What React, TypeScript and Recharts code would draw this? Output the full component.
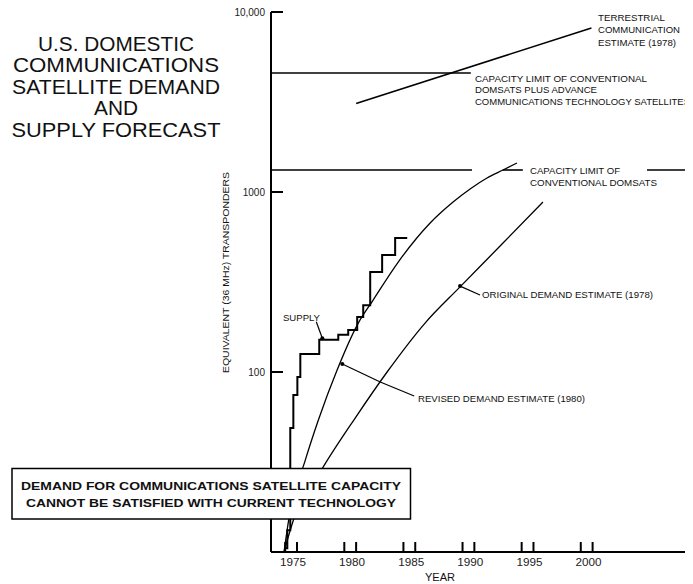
import React from 'react';
import { LineChart, Line, XAxis, YAxis, ReferenceLine, ReferenceDot } from 'recharts';

const FONT = '"Liberation Sans", Arial, Helvetica, sans-serif';

// title
const titleLines = ['U.S. DOMESTIC', 'COMMUNICATIONS', 'SATELLITE DEMAND', 'AND', 'SUPPLY FORECAST'];
const titleWidths = [156, 206, 208, 44, 209];

// axes
const xDomain = [1972.8, 2007.9];
const yDomain = [10, 10000];
const xTicks = [1974, 1975, 1979, 1980, 1984, 1985, 1989, 1990, 1994, 1995, 1999, 2000];
const yTicks = [100, 1000, 10000];

// supply (step)
const supplyYears = [1973.93, 1974.18, 1974.43, 1974.69, 1975.03, 1975.28, 1976.88, 1978.49, 1979.33, 1980.09, 1980.6, 1981.19, 1982.2, 1983.3, 1984.32];
const supplyValues = [10.5, 13.2, 48.8, 74.5, 93.8, 126, 151, 161, 171, 202, 235, 359, 447, 555, 555];

// revised demand estimate (1980)
const revisedYears = [1973.9, 1974.29, 1975.7, 1976.8, 1978.4, 1980.18, 1981.44, 1983.5, 1986.26, 1988.2, 1989.64, 1991.07, 1992.42, 1993.6];
const revisedValues = [10, 15, 32.4, 54, 103, 187, 251, 403, 673, 880, 1040, 1196, 1325, 1449];

// original demand estimate (1978)
const originalYears = [1973.9, 1974.69, 1977.22, 1979.92, 1982.62, 1985.83, 1988.79, 1992.34, 1995.8];
const originalValues = [10, 15, 29.7, 55.5, 100, 187, 297, 514, 880];

// terrestrial communication estimate (1978)
const terrestrialYears = [1980, 1999.9];
const terrestrialValues = [3100, 8150];

// capacity limits
const capAdvancedYears = [1972.8, 1989.7];
const capAdvancedValues = [4580, 4580];
const capConventionalValue = 1325;
const capConventionalSegments = [
  [1972.8, 1989.8],
  [1992.4, 1994.1],
  [2004.6, 2007.9],
];

// leader lines for annotations [year, value], last point is the arrow tip
const supplyLeader = [[1976.63, 190], [1977.14, 154]];
const originalLeader = [[1990.48, 268], [1988.79, 300]];
const revisedLeader = [[1984.91, 73.6], [1982.04, 88], [1978.83, 110.7]];

const zip = (xs: number[], vs: number[]) => xs.map((year, i) => ({ year, v: vs[i] }));
const seg = (pts: number[][]) => pts.map(([x, y]) => ({ x, y }));

const XTick = (props: any) => {
  const { x, y, payload } = props;
  const axisY = y - 8;
  const labelled = payload.value % 5 === 0;
  return (
    <g>
      <line x1={x} x2={x} y1={axisY} y2={axisY - 10} stroke="#000" strokeWidth={2} />
      {labelled && (
        <text x={x - 4} y={axisY + 14} textAnchor="middle" fontSize={10} fontFamily={FONT} fill="#222" textLength={26} lengthAdjust="spacingAndGlyphs">
          {payload.value}
        </text>
      )}
    </g>
  );
};

const YTick = (props: any) => {
  const { x, y, payload } = props;
  const axisX = x + 6;
  const label = payload.value >= 10000 ? '10,000' : String(payload.value);
  return (
    <g>
      <line x1={axisX} x2={axisX + 12} y1={y} y2={y} stroke="#000" strokeWidth={2} />
      <text x={x} y={y + 3.5} textAnchor="end" fontSize={10} fontFamily={FONT} fill="#222">
        {label}
      </text>
    </g>
  );
};

const T = ({ x, y, w, children, size = 9.5, anchor = 'start', weight = 'normal' }: any) => (
  <text x={x} y={y} fontSize={size} fontFamily={FONT} fill="#111" textAnchor={anchor} fontWeight={weight} textLength={w} lengthAdjust="spacingAndGlyphs">
    {children}
  </text>
);

export default function App() {
  const lineProps = { dataKey: 'v', stroke: '#000', dot: false, isAnimationActive: false, activeDot: false } as const;
  const leaders = [supplyLeader, originalLeader, revisedLeader.slice(0, 2), revisedLeader.slice(1)];
  const tips = [supplyLeader[1], originalLeader[1], revisedLeader[2]];
  return (
    <div style={{ position: 'relative', width: 685, height: 576, fontFamily: FONT }}>
      <LineChart width={685} height={576} margin={{ top: 4, right: 7, bottom: 2, left: 203 }}>
        <XAxis
          type="number"
          dataKey="year"
          domain={xDomain}
          ticks={xTicks}
          interval={0}
          allowDataOverflow
          tickSize={0}
          tickMargin={8}
          height={30}
          tick={<XTick />}
          tickFormatter={() => ''}
          axisLine={{ stroke: '#000', strokeWidth: 2 }}
          tickLine={false}
        />
        <YAxis
          scale="log"
          domain={yDomain}
          ticks={yTicks}
          interval={0}
          allowDataOverflow
          width={60}
          tickSize={0}
          tickMargin={6}
          tick={<YTick />}
          axisLine={{ stroke: '#000', strokeWidth: 2 }}
          tickLine={false}
        />
        <Line {...lineProps} data={zip(capAdvancedYears, capAdvancedValues)} strokeWidth={1.6} />
        {capConventionalSegments.map((s, i) => (
          <Line key={i} {...lineProps} data={zip(s, [capConventionalValue, capConventionalValue])} strokeWidth={1.6} />
        ))}
        <Line {...lineProps} data={zip(terrestrialYears, terrestrialValues)} strokeWidth={1.6} />
        <Line {...lineProps} type="monotone" data={zip(revisedYears, revisedValues)} strokeWidth={1.3} />
        <Line {...lineProps} type="monotone" data={zip(originalYears, originalValues)} strokeWidth={1.3} />
        <Line {...lineProps} type="stepAfter" data={zip(supplyYears, supplyValues)} strokeWidth={2} />
        {leaders.map((l, i) => (
          <ReferenceLine key={i} segment={seg(l)} stroke="#000" strokeWidth={1.2} ifOverflow="visible" />
        ))}
        {tips.map(([x, y], i) => (
          <ReferenceDot key={i} x={x} y={y} r={2} fill="#000" stroke="none" ifOverflow="visible" />
        ))}
      </LineChart>
      <svg width={693} height={584} style={{ position: 'absolute', left: -8, top: -8, pointerEvents: 'none' }}>
        <text x={116} y={50.5} fontFamily={FONT} fill="#111" fontSize={20} textAnchor="middle">
          {titleLines.map((l, i) => (
            <tspan key={i} x={116} dy={i === 0 ? 0 : 21.6} textLength={titleWidths[i]} lengthAdjust="spacingAndGlyphs">
              {l}
            </tspan>
          ))}
        </text>
        <T x={598} y={20.5} w={67}>TERRESTRIAL</T>
        <T x={598} y={33} w={82}>COMMUNICATION</T>
        <T x={598} y={45.5} w={78}>ESTIMATE (1978)</T>
        <T x={475} y={81.5} w={172}>CAPACITY LIMIT OF CONVENTIONAL</T>
        <T x={475} y={93} w={122}>DOMSATS PLUS ADVANCE</T>
        <T x={475} y={104.5} w={215}>COMMUNICATIONS TECHNOLOGY SATELLITES</T>
        <T x={530} y={173.5} w={90}>CAPACITY LIMIT OF</T>
        <T x={530} y={186} w={127}>CONVENTIONAL DOMSATS</T>
        <T x={283} y={321} w={37}>SUPPLY</T>
        <T x={482} y={297.5} w={171}>ORIGINAL DEMAND ESTIMATE (1978)</T>
        <T x={418} y={401.5} w={167}>REVISED DEMAND ESTIMATE (1980)</T>
        <text
          x={0}
          y={0}
          transform="translate(228.5,272.5) rotate(-90)"
          fontSize={9.5}
          fontFamily={FONT}
          fill="#111"
          textAnchor="middle"
          textLength={201}
          lengthAdjust="spacingAndGlyphs"
        >
          EQUIVALENT (36 MHz) TRANSPONDERS
        </text>
        <T x={425} y={581} w={30} size={10}>YEAR</T>
        <rect x={12} y={468.5} width={398.5} height={50.5} fill="#fff" stroke="#000" strokeWidth={1.5} />
        <T x={211} y={489.5} w={380} size={11.5} anchor="middle" weight="bold">DEMAND FOR COMMUNICATIONS SATELLITE CAPACITY</T>
        <T x={211} y={506.5} w={370} size={11.5} anchor="middle" weight="bold">CANNOT BE SATISFIED WITH CURRENT TECHNOLOGY</T>
      </svg>
    </div>
  );
}
